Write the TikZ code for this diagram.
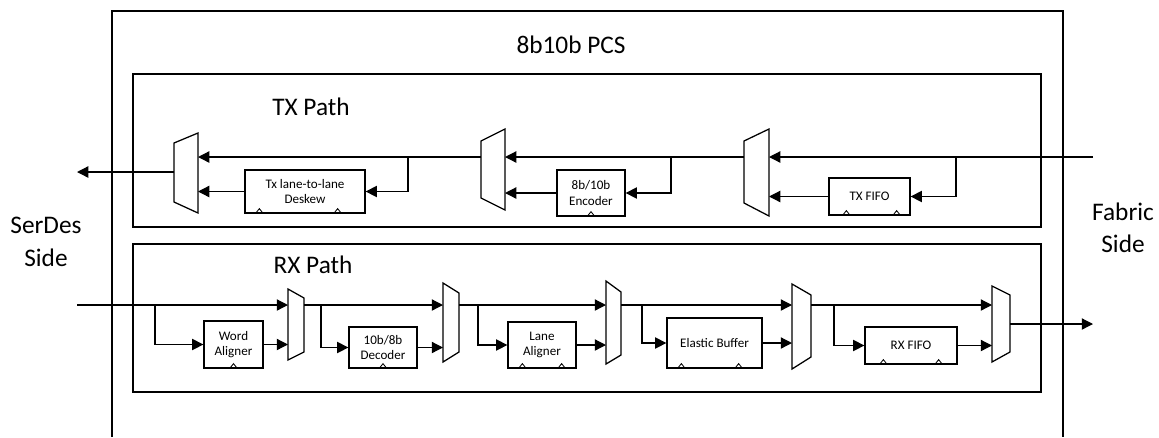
\documentclass[tikz,border=0pt]{standalone}
\usepackage{fontspec}
\setmainfont{Carlito}
\usetikzlibrary{arrows.meta}

\begin{document}
\begin{tikzpicture}[x=0.025cm,y=-0.025cm,line width=0.9pt,
    arr/.style={-{Triangle[length=8pt,width=8pt]}},
    blk/.style={draw,inner sep=0pt,align=center,font=\fontsize{9.3}{10.7}\selectfont},
    big/.style={font=\fontsize{18}{23}\selectfont,align=center},
    clk/.style={line width=0.6pt}]
  \useasboundingbox (0,0) rectangle (1159,437);

  % PCS frame, open at the bottom
  \draw (112,437) -- (112,11) -- (1063,11) -- (1063,437);
  \node[big] (pcs) at (571,45) {8b10b PCS};
  \node[big] (serdes) at (46,242) {SerDes\\Side};
  \node[big] (fabric) at (1123,228) {Fabric\\Side};

  % TX path
  \draw (133,74) rectangle (1041,227);
  \node[big] (txlbl) at (311,107) {TX Path};
  \draw (174,143) -- (198,133) -- (198,213) -- (174,202) -- cycle;
  \draw (481,141) -- (505,129) -- (505,210) -- (481,198) -- cycle;
  \draw (744,141) -- (769,129) -- (769,216) -- (744,203) -- cycle;
  \coordinate (tm1i) at (198,157);
  \coordinate (tm1o) at (174,172);
  \coordinate (tm2i) at (505,157);
  \coordinate (tm2o) at (481,157);
  \coordinate (tm3i) at (769,157);
  \coordinate (tm3o) at (744,157);
  \coordinate (txin) at (1093,157);
  \coordinate (txout) at (77,172);
  \coordinate (tj1) at (408,157);
  \coordinate (tj2) at (671,157);
  \coordinate (tj3) at (956,157);
  \node[blk,minimum width=3cm,minimum height=1.075cm] (deskew) at (305,191.5) {Tx lane-to-lane\\Deskew};
  \node[blk,minimum width=1.7cm,minimum height=1.15cm] (enc) at (591,193) {8b/10b\\Encoder};
  \node[blk,minimum width=2.025cm,minimum height=0.925cm] (txfifo) at (869.5,196.5) {TX FIFO};
  \draw[arr] (txin) -- (tm3i);
  \draw[arr] (tj3) |- (txfifo.east);
  \draw[arr] (txfifo.west) -- (txfifo.west -| tm3i);
  \draw[arr] (tm3o) -- (tm2i);
  \draw[arr] (tj2) |- (enc.east);
  \draw[arr] (enc.west) -- (enc.west -| tm2i);
  \draw[arr] (tm2o) -- (tm1i);
  \draw[arr] (tj1) |- (deskew.east);
  \draw[arr] (deskew.west) -- (deskew.west -| tm1i);
  \draw[arr] (tm1o) -- (txout);
  \draw[clk] (deskew.south west) ++(11,0) -- ++(4,-5) -- ++(4,5);
  \draw[clk] (deskew.south east) ++(-32,0) -- ++(4,-5) -- ++(4,5);
  \draw[clk] (enc.south) ++(-4,0) -- ++(4,-5) -- ++(4,5);
  \draw[clk] (txfifo.south west) ++(14,0) -- ++(4,-5) -- ++(4,5);
  \draw[clk] (txfifo.south east) ++(-18,0) -- ++(4,-5) -- ++(4,5);

  % RX path
  \draw (133,244) rectangle (1041,392);
  \node[big] (rxlbl) at (313,265) {RX Path};
  \draw (288,289) -- (304,298) -- (304,352) -- (288,360) -- cycle;
  \draw (443,283) -- (459,293) -- (459,352) -- (443,362) -- cycle;
  \draw (606,281) -- (621,292) -- (621,355) -- (606,364) -- cycle;
  \draw (792,284) -- (811,295) -- (811,357) -- (792,369) -- cycle;
  \draw (992,286) -- (1010,295) -- (1010,352) -- (992,362) -- cycle;
  \coordinate (rxin) at (77,305);
  \coordinate (rm1i) at (288,305);
  \coordinate (rm1o) at (304,305);
  \coordinate (rm2i) at (443,305);
  \coordinate (rm2o) at (459,305);
  \coordinate (rm3i) at (606,305);
  \coordinate (rm3o) at (621,305);
  \coordinate (rm4i) at (792,305);
  \coordinate (rm4o) at (811,305);
  \coordinate (rm5i) at (992,305);
  \coordinate (rm5o) at (1010,324);
  \coordinate (rxout) at (1093,324);
  \coordinate (rj1) at (155,305);
  \coordinate (rj2) at (321,305);
  \coordinate (rj3) at (478,305);
  \coordinate (rj4) at (642,305);
  \coordinate (rj5) at (834,305);
  \node[blk,minimum width=1.475cm,minimum height=1.175cm] (wordal) at (233.5,344.5) {Word\\Aligner};
  \node[blk,minimum width=1.7cm,minimum height=1.025cm] (dec) at (383,347.5) {10b/8b\\Decoder};
  \node[blk,minimum width=1.7cm,minimum height=1.15cm] (laneal) at (542,345) {Lane\\Aligner};
  \node[blk,minimum width=2.375cm,minimum height=1.25cm] (elastic) at (714.5,343) {Elastic Buffer};
  \node[blk,minimum width=2.3cm,minimum height=0.925cm] (rxfifo) at (911,345.5) {RX FIFO};
  \draw[arr] (rxin) -- (rm1i);
  \draw[arr] (rj1) |- (wordal.west);
  \draw[arr] (wordal.east) -- (wordal.east -| rm1i);
  \draw[arr] (rm1o) -- (rm2i);
  \draw[arr] (rj2) |- (dec.west);
  \draw[arr] (dec.east) -- (dec.east -| rm2i);
  \draw[arr] (rm2o) -- (rm3i);
  \draw[arr] (rj3) |- (laneal.west);
  \draw[arr] (laneal.east) -- (laneal.east -| rm3i);
  \draw[arr] (rm3o) -- (rm4i);
  \draw[arr] (rj4) |- (elastic.west);
  \draw[arr] (elastic.east) -- (elastic.east -| rm4i);
  \draw[arr] (rm4o) -- (rm5i);
  \draw[arr] (rj5) |- (rxfifo.west);
  \draw[arr] (rxfifo.east) -- (rxfifo.east -| rm5i);
  \draw[arr] (rm5o) -- (rxout);
  \draw[clk] (wordal.south) ++(-4,0) -- ++(4,-5) -- ++(4,5);
  \draw[clk] (dec.south) ++(-4,0) -- ++(4,-5) -- ++(4,5);
  \draw[clk] (laneal.south west) ++(11,0) -- ++(4,-5) -- ++(4,5);
  \draw[clk] (laneal.south east) ++(-19,0) -- ++(4,-5) -- ++(4,5);
  \draw[clk] (elastic.south west) ++(11,0) -- ++(4,-5) -- ++(4,5);
  \draw[clk] (elastic.south east) ++(-28,0) -- ++(4,-5) -- ++(4,5);
  \draw[clk] (rxfifo.south west) ++(15,0) -- ++(4,-5) -- ++(4,5);
  \draw[clk] (rxfifo.south east) ++(-23,0) -- ++(4,-5) -- ++(4,5);
\end{tikzpicture}
\end{document}
